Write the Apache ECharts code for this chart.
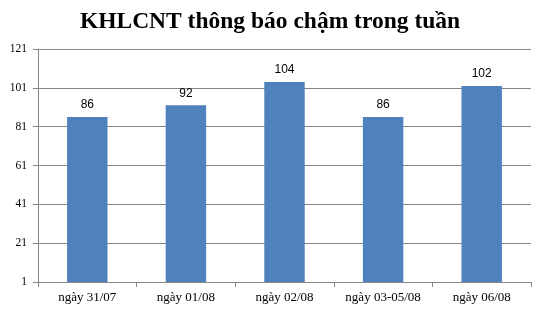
<!DOCTYPE html>
<html>
<head>
<meta charset="utf-8">
<script src="https://cdn.jsdelivr.net/npm/echarts@6/dist/echarts.min.js"></script>
<style>
html,body{margin:0;padding:0;background:#fff;}
#c{width:540px;height:310px;}
</style>
</head>
<body>
<div id="c"></div>
<script>
const titleText = 'KHLCNT thông báo chậm trong tuần';
const categories = ['ngày 31/07', 'ngày 01/08', 'ngày 02/08', 'ngày 03-05/08', 'ngày 06/08'];
const values = [86, 92, 104, 86, 102];
const yTickLabels = ['1', '21', '41', '61', '81', '101', '121'];
const yMin = 1;
const yMax = 121;

const chart = echarts.init(document.getElementById('c'), null, {renderer: 'canvas'});
chart.setOption({
  animation: false,
  backgroundColor: '#ffffff',
  title: {
    text: titleText,
    left: 'center',
    top: 5,
    textStyle: {fontFamily: 'Liberation Serif', fontWeight: 'bold', fontSize: 23.5, color: '#000'}
  },
  grid: {left: 38, right: 9, top: 49, bottom: 28, containLabel: false},
  xAxis: {
    type: 'category',
    data: categories,
    axisLine: {onZero: false, lineStyle: {color: '#868686', width: 1}},
    axisTick: {show: true, length: 5, alignWithLabel: false, lineStyle: {color: '#868686'}},
    axisLabel: {fontFamily: 'Liberation Serif', fontSize: 13, color: '#000', margin: 9, interval: 0},
    splitLine: {show: false}
  },
  yAxis: [
    {
      type: 'value',
      min: yMin,
      max: yMax,
      show: false,
      splitLine: {show: false}
    },
    {
      type: 'category',
      data: yTickLabels,
      boundaryGap: false,
      position: 'left',
      axisLine: {show: true, onZero: false, lineStyle: {color: '#868686', width: 1}},
      axisTick: {show: true, length: 5, inside: false, lineStyle: {color: '#868686'}},
      axisLabel: {fontFamily: 'Liberation Serif', fontSize: 11.5, color: '#000', margin: 11, interval: 0},
      splitLine: {show: true, interval: 0, lineStyle: {color: '#868686', width: 1}}
    }
  ],
  series: [{
    type: 'bar',
    yAxisIndex: 0,
    data: values,
    barWidth: '41%',
    itemStyle: {color: '#4f81bd'},
    label: {
      show: true,
      position: 'top',
      distance: 6,
      fontFamily: 'Liberation Sans',
      fontSize: 12,
      color: '#000'
    }
  }]
});
</script>
</body>
</html>
